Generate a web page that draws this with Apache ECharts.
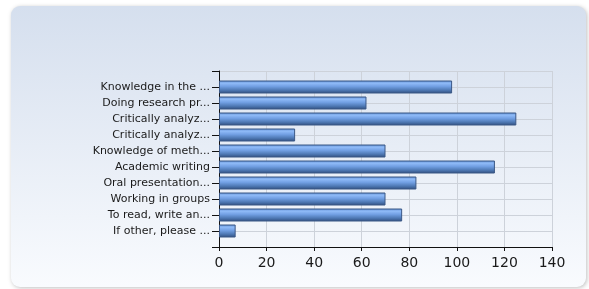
<!DOCTYPE html>
<html>
<head>
<meta charset="utf-8">
<script src="https://cdn.jsdelivr.net/npm/echarts@6/dist/echarts.min.js"></script>
<style>
  html, body { margin: 0; padding: 0; background: #fff; }
  #chart { width: 589px; height: 289px; }
</style>
</head>
<body>
<div id="chart"></div>
<script>
// categories, top to bottom as shown
var categories = [
  "Knowledge in the ...",
  "Doing research pr...",
  "Critically analyz...",
  "Critically analyz...",
  "Knowledge of meth...",
  "Academic writing",
  "Oral presentation...",
  "Working in groups",
  "To read, write an...",
  "If other, please ..."
];
var values = [98, 62, 125, 32, 70, 116, 83, 70, 77, 7];
var xTicks = [0, 20, 40, 60, 80, 100, 120, 140];

// the y axis has an empty slot at each end, like the original
var axisCats = [""].concat(categories, [""]);
var barData = [null].concat(values, [null]);

var chart = echarts.init(document.getElementById("chart"));

var barColor = new echarts.graphic.LinearGradient(0, 0, 0, 1, [
  { offset: 0, color: "#5585cc" },
  { offset: 0.2, color: "#90bbf8" },
  { offset: 0.45, color: "#72a0e4" },
  { offset: 0.75, color: "#4d77b2" },
  { offset: 1, color: "#2f4c7c" }
]);

var option = {
  animation: false,
  graphic: [
    {
      type: "rect",
      shape: { x: 11, y: 6, width: 575, height: 281, r: 9 },
      style: {
        fill: new echarts.graphic.LinearGradient(0, 0, 0, 1, [
          { offset: 0, color: "#d5dfee" },
          { offset: 1, color: "#f9fbfe" }
        ]),
        shadowBlur: 4,
        shadowColor: "rgba(0,0,0,0.25)",
        shadowOffsetX: 1,
        shadowOffsetY: 1
      },
      z: -10
    }
  ],
  grid: { left: 219, right: 37, top: 71, bottom: 42 },
  xAxis: {
    type: "value",
    min: 0,
    max: 140,
    interval: 20,
    axisLine: { show: true, lineStyle: { color: "#111", width: 1 } },
    axisTick: { show: true, length: 4, lineStyle: { color: "#111" } },
    axisLabel: {
      color: "#1a1a1a",
      fontSize: 14,
      fontFamily: "DejaVu Sans",
      margin: 9,
      formatter: function (v) { return xTicks.indexOf(v) >= 0 ? String(v) : ""; }
    },
    splitLine: { show: true, lineStyle: { color: "#cdd2da", width: 1 } }
  },
  yAxis: {
    type: "category",
    inverse: true,
    boundaryGap: false,
    data: axisCats,
    axisLine: { show: true, lineStyle: { color: "#111", width: 1 } },
    axisTick: { show: true, length: 7, inside: false, alignWithLabel: true, lineStyle: { color: "#111" } },
    axisLabel: {
      color: "#1a1a1a",
      fontSize: 11,
      fontFamily: "DejaVu Sans",
      margin: 9,
      interval: 0
    },
    splitLine: { show: true, interval: 0, lineStyle: { color: "#cdd2da", width: 1 } }
  },
  series: [
    {
      type: "bar",
      data: barData,
      barWidth: 13,
      itemStyle: {
        color: barColor,
        borderColor: "#3b5886",
        borderWidth: 1
      }
    }
  ]
};

chart.setOption(option);
</script>
</body>
</html>
